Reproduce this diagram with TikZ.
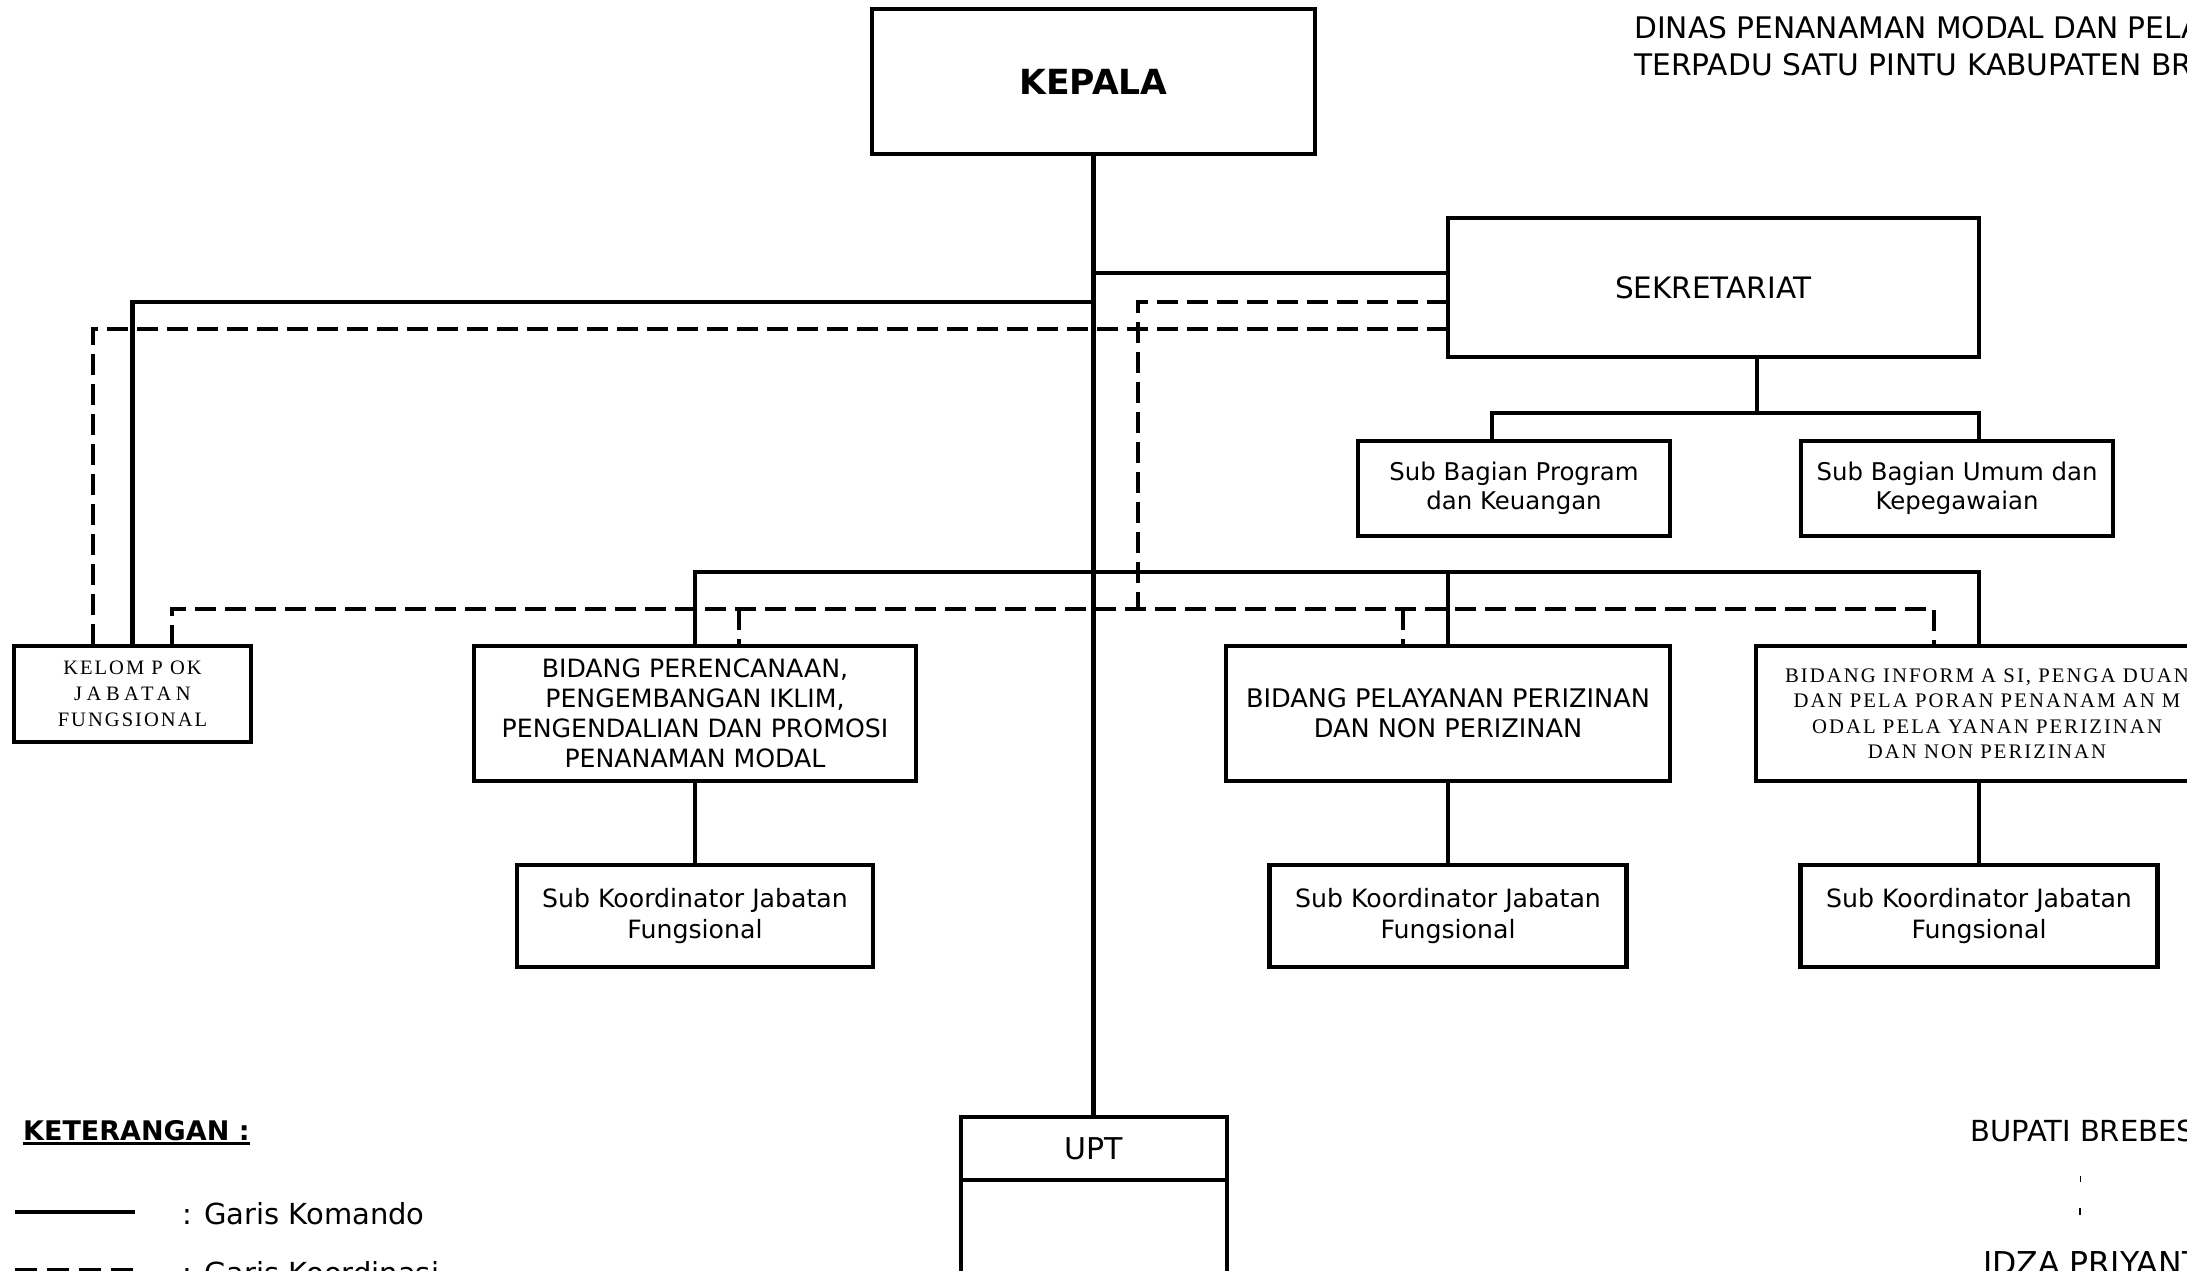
\documentclass[tikz,border=0pt]{standalone}
\usepackage{fontspec}
\setmainfont{DejaVu Sans}
\newfontfamily\tnr{Liberation Serif}[LetterSpace=10]
\begin{document}
\begin{tikzpicture}[x=1pt,y=-1pt,
  box/.style={draw, line width=4.5pt, inner sep=0pt, outer sep=0pt, align=center},
  cmd/.style={line width=4.5pt},
  crd/.style={line width=4.5pt, dash pattern=on 21pt off 9pt},
  lbl/.style={anchor=base west, inner sep=0pt}]
\useasboundingbox (0,0) rectangle (2187,1271);
\clip (0,0) rectangle (2187,1271);

% boxes
\node[box, minimum width=443pt, minimum height=145pt, font=\bfseries\fontsize{34.6}{40}\selectfont] (kepala) at (1093.5,81.5) {KEPALA};
\node[box, minimum width=531pt, minimum height=139pt, font=\fontsize{29.5}{34}\selectfont] (sek) at (1713.5,287.5) {SEKRETARIAT};
\node[box, minimum width=312pt, minimum height=95pt, font=\fontsize{24.4}{29}\selectfont] (sbp) at (1514,488.5) {Sub Bagian Program\\dan Keuangan};
\node[box, minimum width=312pt, minimum height=95pt, font=\fontsize{24.4}{29}\selectfont] (sbu) at (1957,488.5) {Sub Bagian Umum dan\\Kepegawaian};
\node[box, minimum width=237pt, minimum height=96pt, font=\tnr\fontsize{20.5}{26}\selectfont] (kel) at (132.5,694) {KELOM P OK\\{\addfontfeature{LetterSpace=22}JABATAN}\\FUNGSIONAL};
\node[box, minimum width=442pt, minimum height=135pt, font=\fontsize{25.2}{30}\selectfont] (b1) at (695,713.5) {BIDANG PERENCANAAN,\\PENGEMBANGAN IKLIM,\\PENGENDALIAN DAN PROMOSI\\PENANAMAN MODAL};
\node[box, minimum width=444pt, minimum height=135pt, font=\fontsize{25.6}{30}\selectfont] (b2) at (1448,713.5) {BIDANG PELAYANAN PERIZINAN\\DAN NON PERIZINAN};
\node[box, minimum width=462pt, minimum height=135pt, font=\tnr\fontsize{20.7}{25.5}\selectfont] (b3) at (1987,713.5) {BIDANG INFORM A SI, PENGA DUAN\\DAN PELA PORAN PENANAM AN M\\ODAL PELA YANAN PERIZINAN\\DAN NON PERIZINAN};
\node[box, minimum width=356pt, minimum height=102pt, font=\fontsize{25.2}{31}\selectfont] (sk1) at (695,916) {Sub Koordinator Jabatan\\Fungsional};
\node[box, minimum width=357pt, minimum height=102pt, font=\fontsize{25.2}{31}\selectfont] (sk2) at (1448,916) {Sub Koordinator Jabatan\\Fungsional};
\node[box, minimum width=357pt, minimum height=102pt, font=\fontsize{25.2}{31}\selectfont] (sk3) at (1979,916) {Sub Koordinator Jabatan\\Fungsional};
\node[box, minimum width=266pt, minimum height=63pt, font=\fontsize{30}{36}\selectfont] (upt) at (1094,1148.5) {UPT};
\node[box, minimum width=266pt, minimum height=140pt, anchor=north] (uptbody) at (upt.south) {};

% helper coordinates
\coordinate (r1) at (0,273);
\coordinate (r2) at (0,302);
\coordinate (r3) at (0,329);
\coordinate (r4) at (0,572);
\coordinate (r5) at (0,609);
\coordinate (cD1) at (93,0);
\coordinate (cD2) at (172,0);
\coordinate (cD4) at (739,0);
\coordinate (cD3) at (1138,0);
\coordinate (cD5) at (1403,0);
\coordinate (cD6) at (1934,0);
\coordinate (c3) at (1979,0);
\coordinate (sA) at (1492,413);
\coordinate (sB) at (1979,413);
\coordinate (sC) at (1757,413);

% command lines
\draw[cmd] (kepala.south) -- (kepala.south |- upt.north);
\draw[cmd] (kepala.south |- r1) -- (sek.west |- r1);
\draw[cmd] (kepala.south |- r2) -| (kel.north);
\draw[cmd] (sC |- sek.south) -- (sC);
\draw[cmd] (sA |- sbp.north) -- (sA) -- (sB) -- (sB |- sbu.north);
\draw[cmd] (b1.north) -- (b1.north |- r4) -- (c3 |- r4) -- (c3 |- b3.north);
\draw[cmd] (b2.north |- r4) -- (b2.north);
\draw[cmd] (b1.south) -- (sk1.north);
\draw[cmd] (b2.south) -- (sk2.north);
\draw[cmd] (c3 |- b3.south) -- (sk3.north);

% coordination lines
\draw[crd] (sek.west |- r3) -- (cD1 |- r3) -- (cD1 |- kel.north);
\draw[crd] (sek.west |- r2) -- (cD3 |- r2) -- (cD3 |- r5);
\draw[crd] (cD2 |- kel.north) -- (cD2 |- r5) -- (cD6 |- r5) -- (cD6 |- b3.north);
\draw[crd] (cD4 |- r5) -- (cD4 |- b1.north);
\draw[crd] (cD5 |- r5) -- (cD5 |- b2.north);

% title
\node[lbl, font=\fontsize{29.7}{36}\selectfont] (title1) at (1634,39) {DINAS PENANAMAN MODAL DAN PELAYANAN};
\node[lbl, font=\fontsize{29.7}{36}\selectfont] (title2) at (1634,76) {TERPADU SATU PINTU KABUPATEN BREBES};

% legend
\node[lbl, font=\bfseries\fontsize{27}{32}\selectfont] (ket) at (23,1140) {KETERANGAN :};
\draw[line width=3pt] ([yshift=-3.5pt]ket.base west) -- ([yshift=-3.5pt]ket.base east);
\coordinate (lg1a) at (15,1212);
\coordinate (lg1b) at (135,1212);
\draw[cmd] (lg1a) -- (lg1b);
\node[lbl, font=\fontsize{29}{34}\selectfont] (lk) at (182,1224) {: Garis Komando};
\coordinate (lg2a) at (15,1270);
\coordinate (lg2b) at (135,1270);
\draw[line width=4.5pt, dash pattern=on 22pt off 10pt] (lg2a) -- (lg2b);
\node[lbl, font=\fontsize{29}{34}\selectfont] (lko) at (182,1283) {: Garis Koordinasi};

% signature
\node[lbl, font=\fontsize{29}{34}\selectfont] (bupati) at (1970,1141) {BUPATI BREBES};
\draw[line width=1pt] (2080,1176) -- (2080,1182);
\draw[line width=2pt] (2080,1208) -- (2080,1215);
\node[lbl, font=\fontsize{31.5}{36}\selectfont] (idza) at (1983,1274) {IDZA PRIYANTI};
\end{tikzpicture}
\end{document}
